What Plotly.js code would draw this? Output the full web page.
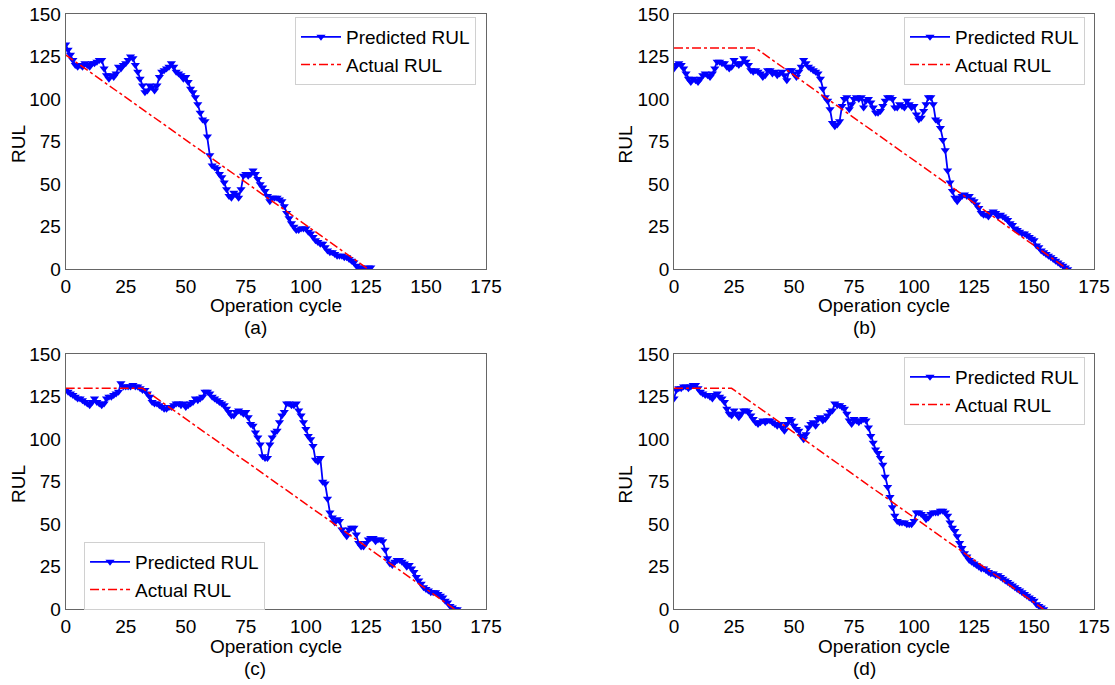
<!DOCTYPE html>
<html>
<head>
<meta charset="utf-8">
<script src="https://cdn.plot.ly/plotly-3.0.1.min.js"></script>
<style>html,body{margin:0;padding:0;background:#fff;}#chart{width:1115px;height:685px;}</style>
</head>
<body>
<div id="chart"></div>
<script>
// ---------- data ----------
const predA = [132,129,126,123,120,119,120,119,121,120,119,121,121,122,123,123,118,114,112,114,113,115,119,118,120,121,123,125,124,120,116,112,108,104,105,108,107,105,108,113,116,117,118,119,121,119,116,115,114,112,113,110,106,104,101,97,92,88,87,78,67,61,60,59,56,54,51,47,43,42,45,44,42,47,55,56,55,56,58,56,53,50,48,46,43,40,42,42,42,41,40,37,33,30,27,25,23,23,24,24,24,22,21,19,17,16,15,15,13,11,10,10,9,8,8,8,7,7,6,5,4,2,1,1,0,0,1,1];
const actXA = [0, 126];
const actYA = [126, 0];

const predB = [118,120,121,120,118,115,112,110,112,111,110,112,114,115,114,113,115,118,122,122,121,121,119,118,119,123,121,120,121,124,122,120,117,116,117,116,115,113,114,117,117,115,116,114,115,116,114,111,117,117,115,113,116,119,123,121,119,118,117,116,115,112,106,101,99,94,86,84,85,87,96,100,101,94,97,100,101,100,101,95,99,100,98,95,92,92,93,96,99,101,101,100,95,95,97,96,95,99,97,95,96,91,88,89,93,97,101,101,97,88,87,83,76,70,58,51,46,42,40,42,43,44,43,43,41,40,38,36,33,32,32,31,33,34,33,31,32,31,30,29,27,26,24,23,22,21,21,20,19,18,17,14,13,11,10,9,8,7,6,5,4,3,2,1,0];
const actXB = [0, 34, 164];
const actYB = [130, 130, 0];

const predC = [129,128,127,126,125,124,124,123,122,121,120,122,124,122,121,120,121,124,125,125,126,127,128,133,131,131,131,131,132,131,131,130,129,129,127,125,122,121,121,120,119,118,118,119,119,120,121,121,120,121,119,120,121,122,124,123,124,125,128,128,127,125,124,123,122,121,120,118,116,114,114,116,117,116,115,116,113,109,108,104,101,97,90,89,89,97,101,104,105,110,114,116,121,121,120,120,121,117,114,110,106,102,100,96,88,87,89,75,74,65,57,54,51,53,52,47,45,43,47,48,48,44,39,37,37,39,41,42,42,40,41,41,40,35,30,27,26,28,29,29,28,27,25,26,24,22,19,17,15,13,12,11,10,10,10,9,8,7,5,4,2,1,0,0];
const actXC = [0, 32, 162];
const actYC = [130, 130, 0];

const predD = [124,129,130,130,131,131,130,131,132,132,130,128,127,126,126,125,124,126,127,125,124,122,118,115,114,117,115,113,115,117,117,116,114,112,110,109,110,111,110,111,111,110,109,108,109,107,105,109,112,111,108,106,105,102,100,103,107,109,110,108,112,113,111,112,114,116,117,121,120,120,119,118,115,111,109,112,111,110,111,112,111,107,102,98,94,92,89,85,78,72,66,60,55,52,51,51,51,50,50,50,52,57,57,56,55,53,54,56,57,57,57,58,58,57,55,51,48,46,43,39,36,33,31,29,28,27,26,25,24,24,23,22,21,21,20,20,19,18,17,16,15,14,13,12,11,10,9,8,7,6,5,3,2,1,0];
const actXD = [0, 24, 154];
const actYD = [130, 130, 0];

const xTicks = [0, 25, 50, 75, 100, 125, 150, 175];
const yTicks = [0, 25, 50, 75, 100, 125, 150];
const panelLabels = ['(a)', '(b)', '(c)', '(d)'];
const xTitle = 'Operation cycle';
const yTitle = 'RUL';
const nameP = 'Predicted RUL';
const nameA = 'Actual RUL';

// ---------- figure ----------
const FONT = 'Liberation Sans, Arial, sans-serif';
const FS = 19;
const idx = arr => arr.map((_, i) => i);
const panels = [
  {pred: predA, ax: actXA, ay: actYA},
  {pred: predB, ax: actXB, ay: actYB},
  {pred: predC, ax: actXC, ay: actYC},
  {pred: predD, ax: actXD, ay: actYD}
];
const xDom = [[0.0589, 0.4359], [0.6045, 0.9812], [0.0589, 0.4359], [0.6045, 0.9812]];
const yDom = [[0.6069, 0.9796], [0.6069, 0.9796], [0.1105, 0.4828], [0.1105, 0.4828]];
const legendPos = [
  {x: 0.4269, y: 0.9752},
  {x: 0.9731, y: 0.9752},
  {x: 0.2377, y: 0.2088},
  {x: 0.9731, y: 0.4789}
];
const capPos = [[0.2287, 0.5226], [0.7749, 0.5226], [0.2287, 0.0248], [0.7749, 0.0248]];
const xTitlePos = [[0.2474, 0.5533], [0.7928, 0.5533], [0.2474, 0.0555], [0.7928, 0.0555]];
const yTitlePos = [[0.0166, 0.7890], [0.5614, 0.7890], [0.0166, 0.2927], [0.5614, 0.2927]];

const traces = [];
const layout = {
  width: 1115, height: 685,
  margin: {l: 0, r: 0, t: 0, b: 0},
  paper_bgcolor: '#fff', plot_bgcolor: '#fff',
  font: {family: FONT, size: FS, color: '#000'},
  showlegend: true,
  annotations: []
};

panels.forEach((p, i) => {
  const n = i === 0 ? '' : String(i + 1);
  const lg = i === 0 ? 'legend' : 'legend' + (i + 1);
  traces.push({
    x: idx(p.pred), y: p.pred, type: 'scatter', mode: 'lines+markers',
    name: nameP, xaxis: 'x' + n, yaxis: 'y' + n, legend: lg,
    line: {color: '#0000ff', width: 1.8},
    marker: {symbol: 'triangle-down', size: 8, color: '#0000ff'}
  });
  traces.push({
    x: p.ax, y: p.ay, type: 'scatter', mode: 'lines',
    name: nameA, xaxis: 'x' + n, yaxis: 'y' + n, legend: lg,
    line: {color: '#ff0000', width: 1.5, dash: 'dashdot'}
  });
  layout['xaxis' + n] = {
    domain: xDom[i], anchor: 'y' + n, range: [0, 175],
    tickvals: xTicks, ticktext: xTicks.map(String), ticks: '',
    showgrid: false, zeroline: false, showline: true, mirror: true,
    linecolor: '#666', linewidth: 1,
    tickfont: {family: FONT, size: FS, color: '#000'}
  };
  layout['yaxis' + n] = {
    domain: yDom[i], anchor: 'x' + n, range: [0, 150],
    tickvals: yTicks, ticktext: yTicks.map(String), ticks: '',
    showgrid: false, zeroline: false, showline: true, mirror: true,
    linecolor: '#666', linewidth: 1,
    tickfont: {family: FONT, size: FS, color: '#000'}
  };
  layout[lg] = {
    x: legendPos[i].x, y: legendPos[i].y, xanchor: 'right', yanchor: 'top',
    bgcolor: '#fff', bordercolor: '#d0d0d0', borderwidth: 1,
    font: {family: FONT, size: FS, color: '#000'},
    itemwidth: 40
  };
  layout.annotations.push({
    text: panelLabels[i], xref: 'paper', yref: 'paper',
    x: capPos[i][0], y: capPos[i][1], xanchor: 'center', yanchor: 'middle',
    showarrow: false, borderpad: 0, font: {family: FONT, size: FS, color: '#000'}
  });
  layout.annotations.push({
    text: xTitle, xref: 'paper', yref: 'paper',
    x: xTitlePos[i][0], y: xTitlePos[i][1], xanchor: 'center', yanchor: 'middle',
    showarrow: false, borderpad: 0, font: {family: FONT, size: FS, color: '#000'}
  });
  layout.annotations.push({
    text: yTitle, xref: 'paper', yref: 'paper', textangle: -90,
    x: yTitlePos[i][0], y: yTitlePos[i][1], xanchor: 'center', yanchor: 'middle',
    showarrow: false, borderpad: 0, font: {family: FONT, size: FS, color: '#000'}
  });
});

Plotly.newPlot('chart', traces, layout, {displayModeBar: false, staticPlot: true});
</script>
</body>
</html>
